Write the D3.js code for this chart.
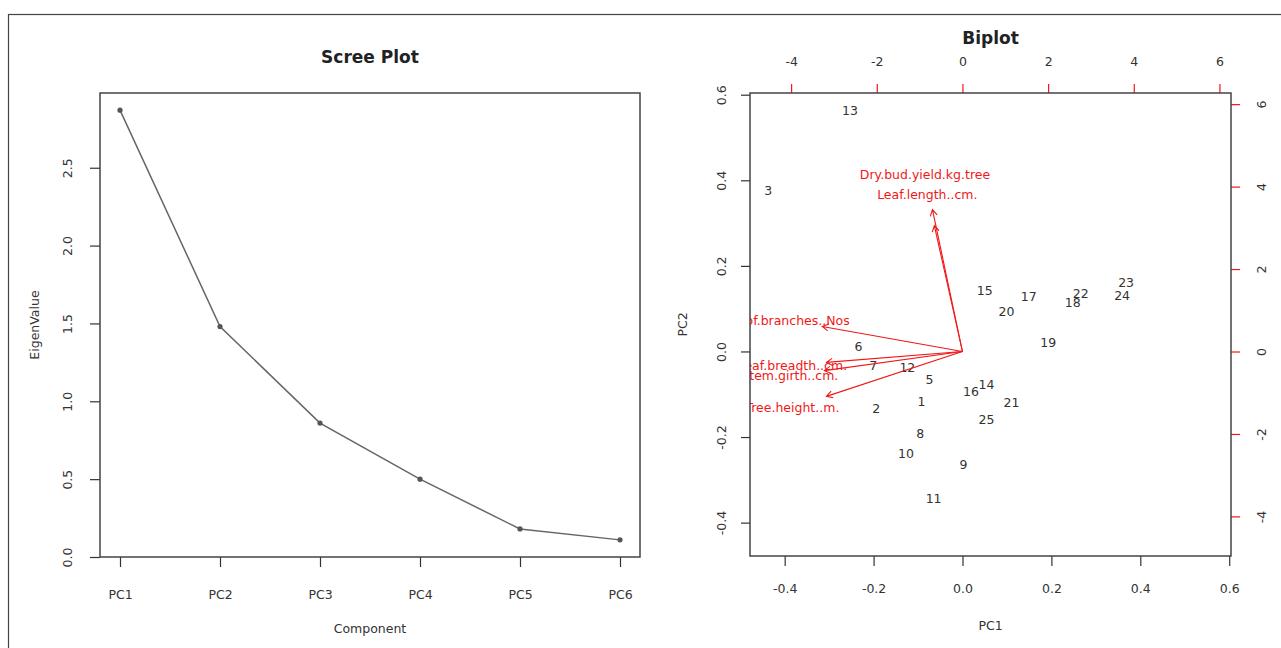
<!DOCTYPE html>
<html>
<head>
<meta charset="utf-8">
<script src="https://cdn.jsdelivr.net/npm/d3@7"></script>
<style>
  body { margin: 0; background: #fff; }
  text { font-family: "DejaVu Sans", "Liberation Sans", Arial, sans-serif; }
</style>
</head>
<body>
<script>
// Scree plot data
const components = ['PC1', 'PC2', 'PC3', 'PC4', 'PC5', 'PC6'];
const eigenValues = [2.87, 1.48, 0.86, 0.50, 0.18, 0.11];
const screeTicks = [0, 0.5, 1.0, 1.5, 2.0, 2.5];

// Biplot: observation scores
const obsIds = ['13', '3', '15', '17', '22', '18', '23', '24', '20', '19', '6', '7', '12',
  '5', '1', '2', '16', '14', '21', '25', '8', '10', '9', '11'];
const obsPC1 = [-0.253, -0.437, 0.050, 0.149, 0.266, 0.248, 0.368, 0.359, 0.099, 0.193, -0.234, -0.201, -0.124,
  -0.074, -0.092, -0.194, 0.019, 0.054, 0.110, 0.054, -0.095, -0.127, 0.002, -0.065];
const obsPC2 = [0.563, 0.376, 0.142, 0.128, 0.135, 0.115, 0.162, 0.131, 0.094, 0.021, 0.012, -0.033, -0.038,
  -0.066, -0.116, -0.133, -0.094, -0.077, -0.120, -0.159, -0.191, -0.238, -0.264, -0.343];

// Biplot: variable loadings (secondary axes)
const varNames = ['Dry.bud.yield.kg.tree', 'Leaf.length..cm.', 'No.of.branches..Nos',
  'Leaf.breadth..cm.', 'Stem.girth..cm.', 'Tree.height..m.'];
const loadPC1 = [-0.875, -0.82, -4.09, -3.97, -4.03, -3.97];
const loadPC2 = [4.30, 3.82, 0.76, -0.33, -0.58, -1.36];

const scoreTicks = [-0.4, -0.2, 0.0, 0.2, 0.4, 0.6];
const loadTicks = [-4, -2, 0, 2, 4, 6];

const [w, h] = [1281, 648];
const ink = '#333';
const red = '#f01818';

const svg = d3.select('body')
  .append('svg')
  .attr('width', w)
  .attr('height', h);

// outer frame
svg.append('rect')
  .attr('x', 8.5).attr('y', 14.5)
  .attr('width', 1400).attr('height', 1000)
  .attr('fill', 'none')
  .attr('stroke', '#444')
  .attr('stroke-width', 1.2);

// rotate axis labels like R (parallel to the axis)
function rotateLabels(g, offset) {
  g.selectAll('text')
    .attr('transform', 'rotate(-90)')
    .attr('x', 0)
    .attr('y', offset)
    .attr('dy', null)
    .style('text-anchor', 'middle');
}

function styleAxis(g, tickColor) {
  g.select('.domain').remove();
  g.selectAll('line').attr('stroke', tickColor).attr('stroke-width', 1.2);
  g.selectAll('text').attr('fill', ink).attr('font-size', 12.5).attr('font-family', null);
}

// ---------- Scree plot ----------
const sx = d3.scaleLinear().domain([0.8, 6.2]).range([100, 640]);
const sy = d3.scaleLinear().domain([0, 2.98]).range([557, 93]);

const sxAxis = svg.append('g')
  .attr('transform', 'translate(0,557)')
  .call(d3.axisBottom(sx).tickValues(d3.range(1, 7)).tickFormat(i => components[i - 1]).tickSize(10));
styleAxis(sxAxis, ink);
sxAxis.selectAll('text').attr('y', 42).attr('dy', null);

const syAxis = svg.append('g')
  .attr('transform', 'translate(100,0)')
  .call(d3.axisLeft(sy).tickValues(screeTicks).tickFormat(d3.format('.1f')).tickSize(10));
styleAxis(syAxis, ink);
rotateLabels(syAxis, -28);

svg.append('path')
  .datum(eigenValues)
  .attr('fill', 'none')
  .attr('stroke', '#666')
  .attr('stroke-width', 1.5)
  .attr('d', d3.line().x((d, i) => sx(i + 1)).y(d => sy(d)));

svg.selectAll('.scree-pt')
  .data(eigenValues)
  .enter()
  .append('circle')
  .attr('class', 'scree-pt')
  .attr('cx', (d, i) => sx(i + 1))
  .attr('cy', d => sy(d))
  .attr('r', 2.6)
  .attr('fill', '#555');

svg.append('rect')
  .attr('x', 100).attr('y', 93)
  .attr('width', 540).attr('height', 464)
  .attr('fill', 'none')
  .attr('stroke', '#444')
  .attr('stroke-width', 1.5);

svg.append('text')
  .attr('x', 370).attr('y', 63)
  .attr('text-anchor', 'middle')
  .attr('font-size', 17).attr('font-weight', 'bold')
  .attr('fill', '#222')
  .text('Scree Plot');

svg.append('text')
  .attr('x', 370).attr('y', 633)
  .attr('text-anchor', 'middle')
  .attr('font-size', 12.5).attr('fill', ink)
  .text('Component');

svg.append('text')
  .attr('transform', 'translate(35,325) rotate(-90)')
  .attr('dy', '0.35em')
  .attr('text-anchor', 'middle')
  .attr('font-size', 12.5).attr('fill', ink)
  .text('EigenValue');

// ---------- Biplot ----------
const [bl, br, bt, bb] = [750, 1231, 93, 556];
const bx = d3.scaleLinear().domain([-0.478, 0.604]).range([bl, br]);
const by = d3.scaleLinear().domain([-0.478, 0.604]).range([bb, bt]);
const bx2 = d3.scaleLinear().domain([-4.96, 6.27]).range([bl, br]);
const by2 = d3.scaleLinear().domain([-4.96, 6.27]).range([bb, bt]);

const fmt1 = d => d.toFixed(1);
const fmt0 = d => String(d);

const bxAxis = svg.append('g')
  .attr('transform', `translate(0,${bb})`)
  .call(d3.axisBottom(bx).tickValues(scoreTicks).tickFormat(fmt1).tickSize(10));
styleAxis(bxAxis, ink);
bxAxis.selectAll('text').attr('y', 37).attr('dy', null);

const byAxis = svg.append('g')
  .attr('transform', `translate(${bl},0)`)
  .call(d3.axisLeft(by).tickValues(scoreTicks).tickFormat(fmt1).tickSize(9));
styleAxis(byAxis, ink);
rotateLabels(byAxis, -24);

const tAxis = svg.append('g')
  .attr('transform', `translate(0,${bt})`)
  .call(d3.axisTop(bx2).tickValues(loadTicks).tickFormat(fmt0).tickSize(9));
styleAxis(tAxis, red);
tAxis.selectAll('text').attr('y', -27).attr('dy', null);

const rAxis = svg.append('g')
  .attr('transform', `translate(${br},0)`)
  .call(d3.axisRight(by2).tickValues(loadTicks).tickFormat(fmt0).tickSize(9));
styleAxis(rAxis, red);
rotateLabels(rAxis, 35);

svg.append('defs').append('clipPath')
  .attr('id', 'bclip')
  .append('rect')
  .attr('x', bl).attr('y', bt)
  .attr('width', br - bl).attr('height', bb - bt);

const plot = svg.append('g').attr('clip-path', 'url(#bclip)');

plot.selectAll('.obs')
  .data(obsIds)
  .enter()
  .append('text')
  .attr('class', 'obs')
  .attr('x', (d, i) => bx(obsPC1[i]))
  .attr('y', (d, i) => by(obsPC2[i]))
  .attr('dy', '0.36em')
  .attr('text-anchor', 'middle')
  .attr('font-size', 12.5)
  .attr('fill', ink)
  .text(d => d);

// arrows run to 0.8 of the loading, label sits at the loading (R biplot)
const ox = bx2(0), oy = by2(0);
const arrowHead = 7, arrowAngle = Math.PI / 6;
varNames.forEach((name, i) => {
  const tx = bx2(0.8 * loadPC1[i]);
  const ty = by2(0.8 * loadPC2[i]);
  const a = Math.atan2(ty - oy, tx - ox);
  const head = [a + Math.PI - arrowAngle, a + Math.PI + arrowAngle]
    .map(t => [tx + arrowHead * Math.cos(t), ty + arrowHead * Math.sin(t)]);
  plot.append('path')
    .attr('d', `M${ox},${oy}L${tx},${ty}M${head[0][0]},${head[0][1]}L${tx},${ty}L${head[1][0]},${head[1][1]}`)
    .attr('fill', 'none')
    .attr('stroke', red)
    .attr('stroke-width', 1.1);
  plot.append('text')
    .attr('x', bx2(loadPC1[i]))
    .attr('y', by2(loadPC2[i]))
    .attr('dy', '0.36em')
    .attr('text-anchor', 'middle')
    .attr('font-size', 12.5)
    .attr('fill', red)
    .text(name);
});

svg.append('rect')
  .attr('x', bl).attr('y', bt)
  .attr('width', br - bl).attr('height', bb - bt)
  .attr('fill', 'none')
  .attr('stroke', '#444')
  .attr('stroke-width', 1.5);

svg.append('text')
  .attr('x', (bl + br) / 2).attr('y', 44)
  .attr('text-anchor', 'middle')
  .attr('font-size', 17).attr('font-weight', 'bold')
  .attr('fill', '#222')
  .text('Biplot');

svg.append('text')
  .attr('x', (bl + br) / 2).attr('y', 630)
  .attr('text-anchor', 'middle')
  .attr('font-size', 12.5).attr('fill', ink)
  .text('PC1');

svg.append('text')
  .attr('transform', `translate(683,${(bt + bb) / 2}) rotate(-90)`)
  .attr('dy', '0.35em')
  .attr('text-anchor', 'middle')
  .attr('font-size', 12.5).attr('fill', ink)
  .text('PC2');
</script>
</body>
</html>
